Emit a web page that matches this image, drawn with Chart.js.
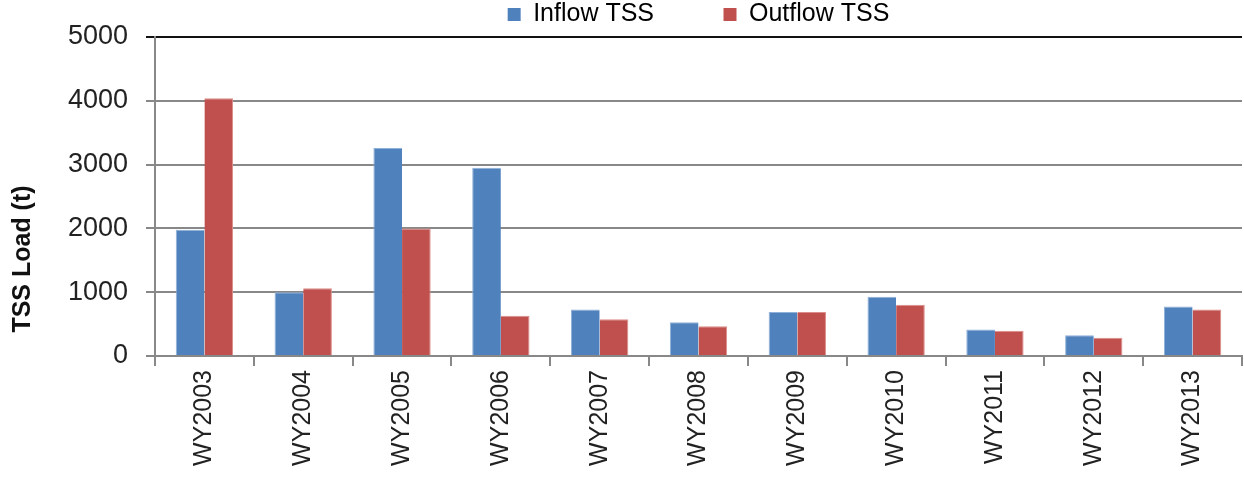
<!DOCTYPE html>
<html>
<head>
<meta charset="utf-8">
<script src="https://cdn.jsdelivr.net/npm/chart.js@4/dist/chart.umd.min.js"></script>
<style>
  body { margin: 0; background: #fff; }
  #wrap { width: 1244px; height: 478px; }
</style>
</head>
<body>
<div id="wrap"><canvas id="myChart" width="1244" height="478"></canvas></div>
<script>
const years = [
  "WY2003", "WY2004", "WY2005", "WY2006", "WY2007", "WY2008",
  "WY2009", "WY2010", "WY2011", "WY2012", "WY2013",
];
const inflowTSS = [1980, 1000, 3260, 2950, 730, 530, 690, 930, 415, 325, 775];
const outflowTSS = [4040, 1060, 2000, 630, 575, 465, 690, 805, 395, 285, 730];
const yTicks = [0, 1000, 2000, 3000, 4000, 5000];

const font = "'Liberation Sans', Arial, sans-serif";

new Chart("myChart", {
  type: "bar",
  data: {
    labels: years,
    datasets: [
      {
        label: "Inflow TSS",
        data: inflowTSS,
        backgroundColor: "#4F81BD",
        borderColor: "#8fb0d8",
        borderWidth: { top: 1, left: 1, right: 0, bottom: 0 },
        categoryPercentage: 0.58,
        barPercentage: 1,
      },
      {
        label: "Outflow TSS",
        data: outflowTSS,
        backgroundColor: "#C0504D",
        borderColor: "#dc8e8c",
        borderWidth: { top: 1, left: 0, right: 1, bottom: 0 },
        categoryPercentage: 0.58,
        barPercentage: 1,
      },
    ],
  },
  options: {
    responsive: false,
    animation: false,
    layout: { padding: { left: 0, right: 2, top: 2, bottom: 0 } },
    plugins: {
      legend: {
        position: "top",
        fullSize: false,
        labels: {
          font: { family: font, size: 25 },
          color: "#222",
          boxWidth: 13,
          boxHeight: 13,
          padding: 0,
          generateLabels: (chart) =>
            chart.data.datasets.map((ds, i) => ({
              text: i === 0 ? ds.label + "          " : ds.label,
              fillStyle: ds.backgroundColor,
              strokeStyle: ds.backgroundColor,
              lineWidth: 0,
              datasetIndex: i,
            })),
        },
      },
      tooltip: { enabled: false },
    },
    scales: {
      x: {
        offset: true,
        afterFit: (axis) => {
          axis.height = 122;
        },
        grid: {
          offset: true,
          drawOnChartArea: false,
          color: "#888",
          lineWidth: 2,
          tickLength: 10,
        },
        border: { color: "#888", width: 2 },
        ticks: {
          font: { family: font, size: 25 },
          color: "#222",
          minRotation: 90,
          maxRotation: 90,
          padding: 4,
        },
      },
      y: {
        min: 0,
        max: 5000,
        afterFit: (axis) => {
          axis.width = 155;
        },
        afterBuildTicks: (axis) => {
          axis.ticks = yTicks.map((v) => ({ value: v }));
        },
        grid: {
          color: (ctx) => (ctx.tick && ctx.tick.value === 5000 ? "#111" : "#888"),
          lineWidth: 2,
          tickLength: 9,
        },
        border: { color: "#888", width: 2 },
        ticks: {
          font: { family: font, size: 27 },
          color: "#222",
          padding: 18,
          callback: (v) => String(v),
        },
        title: {
          display: true,
          text: "TSS Load (t)" + " ".repeat(18),
          font: { family: font, size: 25, weight: "bold" },
          color: "#111",
          padding: { top: 8, bottom: 14 },
        },
      },
    },
  },
});
</script>
</body>
</html>
